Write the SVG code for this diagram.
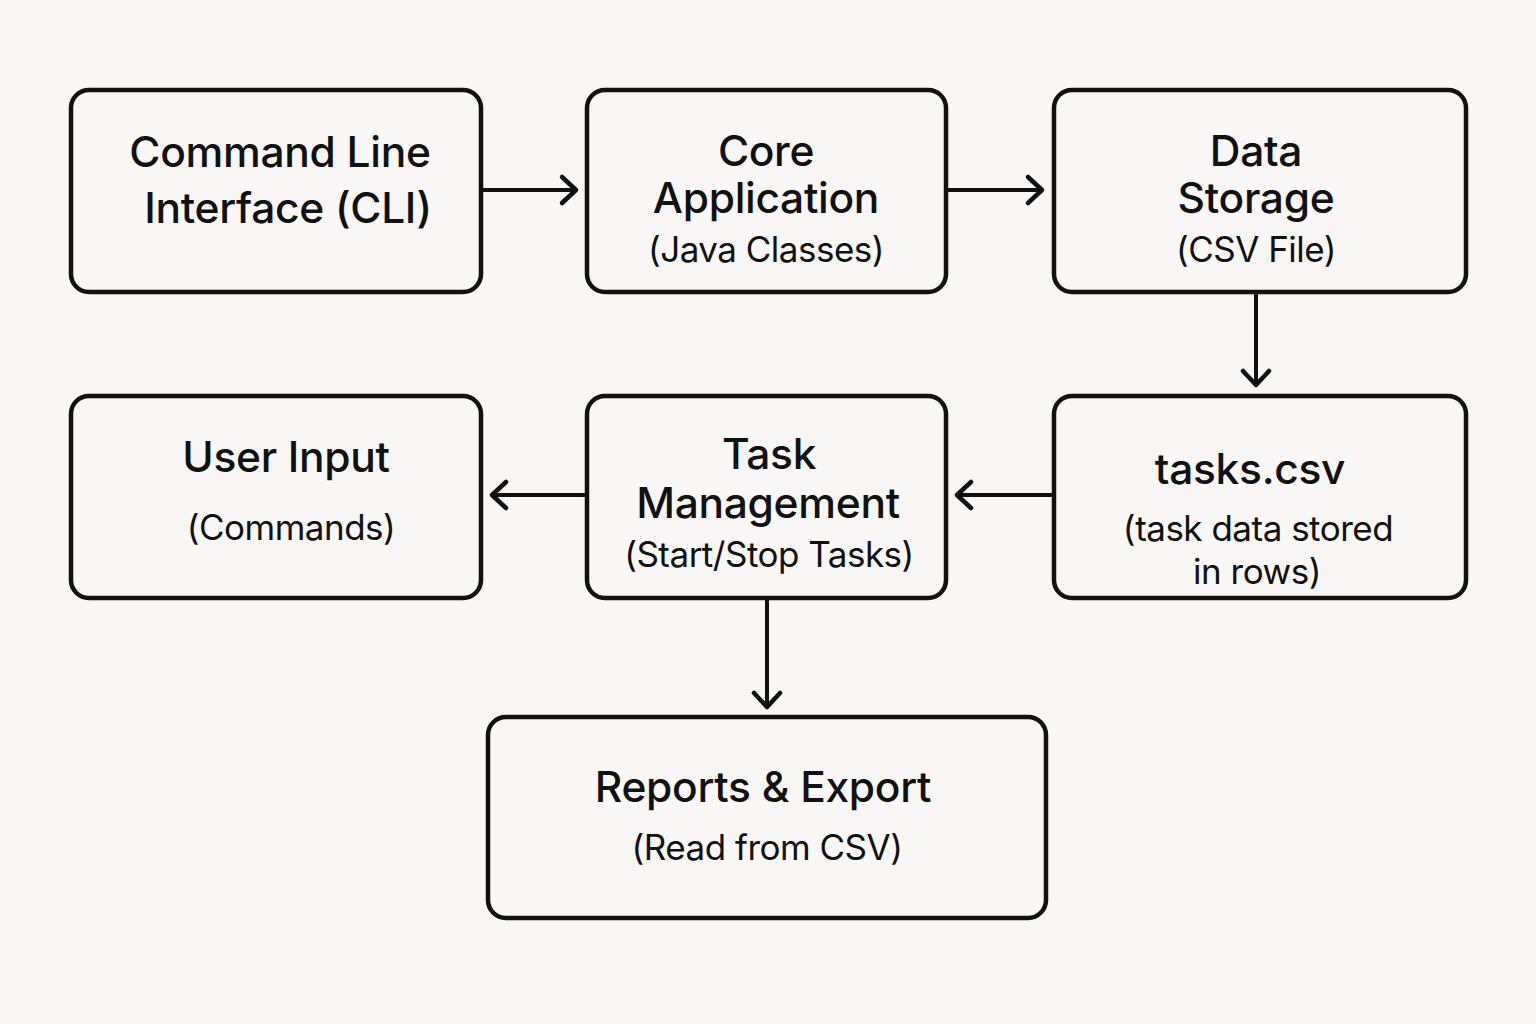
<svg xmlns="http://www.w3.org/2000/svg" width="1536" height="1024" viewBox="0 0 1536 1024">
<style>
.box{fill:#f8f7f5;stroke:#111;stroke-width:4.5}
.t{font-family:Inter,"Noto Sans","Liberation Sans",sans-serif;fill:#111;text-anchor:middle;font-weight:500}
.l{font-size:42.5px;letter-spacing:-0.3px}
.s{font-size:35px;font-weight:400;letter-spacing:-0.5px}
.c{stroke:#111;stroke-width:4;fill:none}
.h{stroke:#111;stroke-width:4.5;fill:none;stroke-linecap:round;stroke-linejoin:round}
</style>
<rect width="1536" height="1024" fill="#f8f7f5"/>
<g id="cli"><rect class="box" x="71" y="90" width="410" height="202" rx="18"/>
<text class="t l" x="280" y="167">Command Line</text>
<text class="t l" x="288" y="223">Interface (CLI)</text></g>
<g id="core"><rect class="box" x="587" y="90" width="359" height="202" rx="18"/>
<text class="t l" x="766" y="166">Core</text>
<text class="t l" x="766" y="213">Application</text>
<text class="t s" x="766" y="262">(Java Classes)</text></g>
<g id="storage"><rect class="box" x="1054" y="90" width="412" height="202" rx="18"/>
<text class="t l" x="1256" y="166">Data</text>
<text class="t l" x="1256" y="213">Storage</text>
<text class="t s" x="1256" y="262">(CSV File)</text></g>
<g id="userinput"><rect class="box" x="71" y="396" width="410" height="202" rx="18"/>
<text class="t l" x="286" y="472">User Input</text>
<text class="t s" x="291" y="540">(Commands)</text></g>
<g id="taskmgmt"><rect class="box" x="587" y="396" width="359" height="202" rx="18"/>
<text class="t l" x="769" y="469">Task</text>
<text class="t l" x="768" y="518">Management</text>
<text class="t s" x="769" y="567">(Start/Stop Tasks)</text></g>
<g id="taskscsv"><rect class="box" x="1054" y="396" width="412" height="202" rx="18"/>
<text class="t l" x="1250" y="484">tasks.csv</text>
<text class="t s" x="1258" y="541">(task data stored</text>
<text class="t s" x="1257" y="584">in rows)</text></g>
<g id="reports"><rect class="box" x="488" y="717" width="558" height="201" rx="18"/>
<text class="t l" x="763" y="802">Reports &amp; Export</text>
<text class="t s" x="767" y="860">(Read from CSV)</text></g>
<g id="connectors">
<line class="c" x1="481" y1="190" x2="575" y2="190"/><polyline class="h" points="562,177 576,190 562,203"/>
<line class="c" x1="946" y1="190" x2="1041" y2="190"/><polyline class="h" points="1028,177 1042,190 1028,203"/>
<line class="c" x1="1256" y1="292" x2="1256" y2="384"/><polyline class="h" points="1243,371 1256,385 1269,371"/>
<line class="c" x1="1054" y1="495" x2="958" y2="495"/><polyline class="h" points="971,482 957,495 971,508"/>
<line class="c" x1="587" y1="495" x2="493" y2="495"/><polyline class="h" points="506,482 492,495 506,508"/>
<line class="c" x1="767" y1="598" x2="767" y2="706"/><polyline class="h" points="754,693 767,707 780,693"/>
</g>
</svg>
